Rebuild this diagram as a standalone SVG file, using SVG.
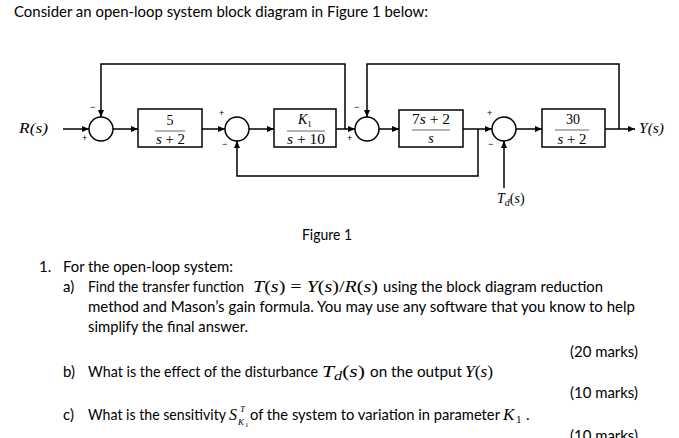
<svg xmlns="http://www.w3.org/2000/svg" width="679" height="438" viewBox="0 0 679 438">
<style>
.t{font-family:Lato,Carlito,"Open Sans",sans-serif;font-size:15px;fill:#000}
.m{font-family:"Liberation Serif","Times New Roman",serif;fill:#000}
.i{font-style:italic}
.w{fill:none;stroke:#000;stroke-width:1.5}
.blk{fill:#fff;stroke:#000;stroke-width:1.5}
.sum{fill:#fff;stroke:#000;stroke-width:1.5}
.fl{stroke:#555;stroke-width:0.9}
.sg{font-family:"Liberation Sans",Arial,sans-serif;font-size:9px;fill:#000}
</style>
<defs>
<marker id="ah" viewBox="0 0 7 6" refX="7" refY="3" markerWidth="7" markerHeight="6" markerUnits="userSpaceOnUse" orient="auto"><path d="M0,0 L7,3 L0,6 z" fill="#000"/></marker>
</defs>
<rect width="679" height="438" fill="#fff"/>

<text class="t" x="14" y="17" textLength="414" lengthAdjust="spacingAndGlyphs">Consider an open-loop system block diagram in Figure 1 below:</text>

<g id="connectors">
<path class="w" d="M63,129 H89" marker-end="url(#ah)"/>
<path class="w" d="M113,129 H138" marker-end="url(#ah)"/>
<path class="w" d="M202,129 H225" marker-end="url(#ah)"/>
<path class="w" d="M249,129 H274" marker-end="url(#ah)"/>
<path class="w" d="M336,129 H355" marker-end="url(#ah)"/>
<path class="w" d="M345,129 V64 H101 V117" marker-end="url(#ah)"/>
<path class="w" d="M379,129 H399" marker-end="url(#ah)"/>
<path class="w" d="M463,129 H492" marker-end="url(#ah)"/>
<path class="w" d="M478,129 V176 H237 V141" marker-end="url(#ah)"/>
<path class="w" d="M516,129 H542" marker-end="url(#ah)"/>
<path class="w" d="M605,129 H635" marker-end="url(#ah)"/>
<path class="w" d="M619,129 V64 H367 V117" marker-end="url(#ah)"/>
<path class="w" d="M504,188 V141" marker-end="url(#ah)"/>
</g>

<g id="input">
<text class="m i" x="19" y="133" font-size="14" textLength="29" lengthAdjust="spacingAndGlyphs">R(s)</text>
</g>

<g id="sum1">
<circle class="sum" cx="101" cy="129" r="12"/>
<text class="sg" x="90" y="110">−</text>
<text class="sg" x="82" y="141">+</text>
</g>

<g id="block1">
<rect class="blk" x="138" y="109" width="64" height="38"/>
<text class="m" x="170" y="125" font-size="14" text-anchor="middle">5</text>
<line class="fl" x1="155" y1="131" x2="185" y2="131"/>
<text class="m" x="170.5" y="144" font-size="14" text-anchor="middle" textLength="29" lengthAdjust="spacingAndGlyphs"><tspan class="i">s</tspan> + 2</text>
</g>

<g id="sum2">
<circle class="sum" cx="237" cy="129" r="12"/>
<text class="sg" x="219" y="116">+</text>
<text class="sg" x="222" y="147">−</text>
</g>

<g id="block2">
<rect class="blk" x="274" y="109" width="62" height="38"/>
<text class="m" x="298" y="124" font-size="14"><tspan class="i">K</tspan><tspan font-size="9" dy="3">1</tspan></text>
<line class="fl" x1="287" y1="131" x2="325" y2="131"/>
<text class="m" x="306" y="144" font-size="14" text-anchor="middle" textLength="38" lengthAdjust="spacingAndGlyphs"><tspan class="i">s</tspan> + 10</text>
</g>

<g id="sum3">
<circle class="sum" cx="367" cy="129" r="12"/>
<text class="sg" x="354" y="110">−</text>
<text class="sg" x="347" y="141">+</text>
</g>

<g id="block3">
<rect class="blk" x="399" y="110" width="64" height="37"/>
<text class="m" x="431" y="124" font-size="14" text-anchor="middle" textLength="38" lengthAdjust="spacingAndGlyphs">7<tspan class="i">s</tspan> + 2</text>
<line class="fl" x1="412" y1="130" x2="450" y2="130"/>
<text class="m i" x="431" y="143" font-size="14" text-anchor="middle">s</text>
</g>

<g id="sum4">
<circle class="sum" cx="504" cy="129" r="12"/>
<text class="sg" x="487" y="116">+</text>
<text class="sg" x="488" y="147">−</text>
</g>

<g id="block4">
<rect class="blk" x="542" y="109" width="63" height="38"/>
<text class="m" x="573" y="124" font-size="14" text-anchor="middle">30</text>
<line class="fl" x1="555" y1="130" x2="589" y2="130"/>
<text class="m" x="572" y="144" font-size="14" text-anchor="middle" textLength="29" lengthAdjust="spacingAndGlyphs"><tspan class="i">s</tspan> + 2</text>
</g>

<g id="output">
<text class="m i" x="639" y="133" font-size="14" textLength="25" lengthAdjust="spacingAndGlyphs">Y(s)</text>
</g>

<g id="disturbance">
<text class="m" x="497" y="203" font-size="14"><tspan class="i">T</tspan><tspan class="i" font-size="10" dy="3">d</tspan><tspan dy="-3">(</tspan><tspan class="i">s</tspan>)</text>
</g>

<text class="t" x="302" y="240" textLength="50" lengthAdjust="spacingAndGlyphs">Figure 1</text>

<text class="t" x="39" y="272">1.</text>
<text class="t" x="63" y="272" textLength="170" lengthAdjust="spacingAndGlyphs">For the open-loop system:</text>

<text class="t" x="63" y="292">a)</text>
<text class="t" x="88" y="292" textLength="156" lengthAdjust="spacingAndGlyphs">Find the transfer function</text>
<text class="m" x="253" y="292" font-size="16" textLength="125" lengthAdjust="spacingAndGlyphs"><tspan class="i">T</tspan>(<tspan class="i">s</tspan>) = <tspan class="i">Y</tspan>(<tspan class="i">s</tspan>)/<tspan class="i">R</tspan>(<tspan class="i">s</tspan>)</text>
<text class="t" x="383" y="292" textLength="220" lengthAdjust="spacingAndGlyphs">using the block diagram reduction</text>
<text class="t" x="88" y="312" textLength="547" lengthAdjust="spacingAndGlyphs">method and Mason’s gain formula. You may use any software that you know to help</text>
<text class="t" x="88" y="332" textLength="160" lengthAdjust="spacingAndGlyphs">simplify the final answer.</text>

<text class="t" x="570" y="357" textLength="68" lengthAdjust="spacingAndGlyphs">(20 marks)</text>

<text class="t" x="63" y="377">b)</text>
<text class="t" x="88" y="377" textLength="230" lengthAdjust="spacingAndGlyphs">What is the effect of the disturbance</text>
<text class="m" x="322" y="377" font-size="16" textLength="43" lengthAdjust="spacingAndGlyphs"><tspan class="i">T</tspan><tspan class="i" font-size="12" dy="3">d</tspan><tspan dy="-3">(</tspan><tspan class="i">s</tspan>)</text>
<text class="t" x="370" y="377" textLength="92" lengthAdjust="spacingAndGlyphs">on the output</text>
<text class="m" x="465" y="377" font-size="16" textLength="28" lengthAdjust="spacingAndGlyphs"><tspan class="i">Y</tspan>(<tspan class="i">s</tspan>)</text>

<text class="t" x="570" y="398" textLength="68" lengthAdjust="spacingAndGlyphs">(10 marks)</text>

<text class="t" x="63" y="420">c)</text>
<text class="t" x="88" y="420" textLength="138" lengthAdjust="spacingAndGlyphs">What is the sensitivity</text>
<text class="m i" x="229" y="420" font-size="16">S</text>
<text class="m i" x="240" y="412" font-size="9">T</text>
<text class="m i" x="238" y="425" font-size="9">K</text>
<text class="m" x="245" y="427" font-size="7">1</text>
<text class="t" x="250" y="420" textLength="250" lengthAdjust="spacingAndGlyphs">of the system to variation in parameter</text>
<text class="m i" x="503" y="420" font-size="17">K</text>
<text class="m" x="516" y="423" font-size="11">1</text>
<text class="t" x="526" y="420">.</text>

<text class="t" x="570" y="441" textLength="68" lengthAdjust="spacingAndGlyphs">(10 marks)</text>
</svg>
